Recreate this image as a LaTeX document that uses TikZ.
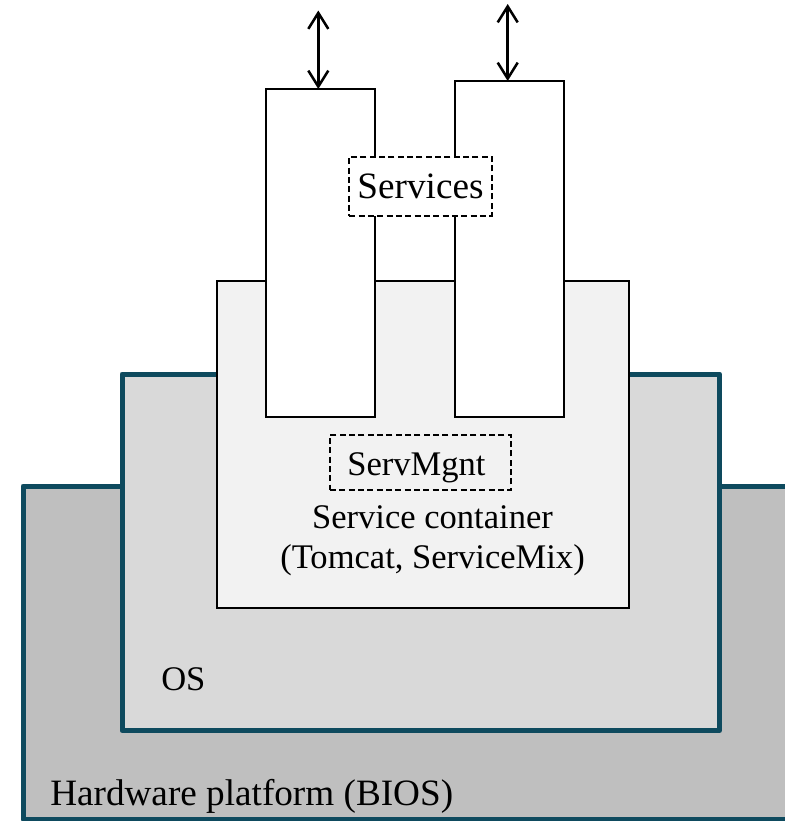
\documentclass[tikz,border=0pt]{standalone}
\usepackage{fontspec}
\setmainfont{Liberation Serif}
\usetikzlibrary{arrows.meta,fit}
\definecolor{teal}{HTML}{0E4A5E}
\definecolor{hwgray}{HTML}{BFBFBF}
\definecolor{osgray}{HTML}{D9D9D9}
\definecolor{scgray}{HTML}{F2F2F2}
\tikzset{
  layer/.style={draw=teal, line width=3.75pt, line join=round},
  blk/.style={draw=black, line width=1.5pt, inner sep=0pt},
  dbox/.style={draw=black, line width=1.25pt, dash pattern=on 4.5pt off 2.5pt, inner sep=0pt},
  lbl/.style={font=\fontsize{27.9}{33}\selectfont, anchor=base, inner sep=0pt},
  slbl/.style={font=\fontsize{25.9}{31}\selectfont, anchor=base, inner sep=0pt},
  io/.style={line width=1.9pt, {Straight Barb[length=12pt,width=15pt,line width=1.9pt]}-{Straight Barb[length=12pt,width=15pt,line width=1.9pt]}}
}
\begin{document}
\begin{tikzpicture}[x=0.75pt,y=-0.75pt]
\useasboundingbox (0,0) rectangle (785,821);
\begin{scope}
\clip (0,0) rectangle (785,821);
\node[layer, fill=hwgray, inner sep=0pt, fit={(23,486) (810,819)}] (hw) {};
\end{scope}
\node[layer, fill=osgray, inner sep=0pt, fit={(122,374) (719.5,730.5)}] (os) {};
\node[blk, fill=scgray, fit={(216.5,280.5) (629,608.3)}] (sc) {};
\node[blk, fill=white, fit={(266,89) (375,417.3)}] (lrect) {};
\node[blk, fill=white, fit={(455,81) (564,417.3)}] (rrect) {};
\node[dbox, fill=white, fit={(349.3,156.7) (491.7,215.7)}] (servbox) {};
\node[dbox, fit={(330,435) (511,490)}] (mgntbox) {};
\node[lbl] (servtxt) at (420.5,198) {Services};
\node[slbl] (mgnttxt) at (416.5,475) {ServMgnt};
\node[slbl] (sctxt1) at (432.5,528) {Service container};
\node[slbl] (sctxt2) at (432.5,568) {(Tomcat, ServiceMix)};
\node[slbl, anchor=base west] (ostxt) at (161,690) {OS};
\node[lbl, anchor=base west] (hwtxt) at (50,805) {Hardware platform (BIOS)};
\coordinate (la) at (318.3,10.5);
\coordinate (ra) at (507.7,4);
\coordinate (lb) at (318.3,89);
\coordinate (rb) at (507.7,81);
\draw[io] (la) -- (lb);
\draw[io] (ra) -- (rb);
\end{tikzpicture}
\end{document}
